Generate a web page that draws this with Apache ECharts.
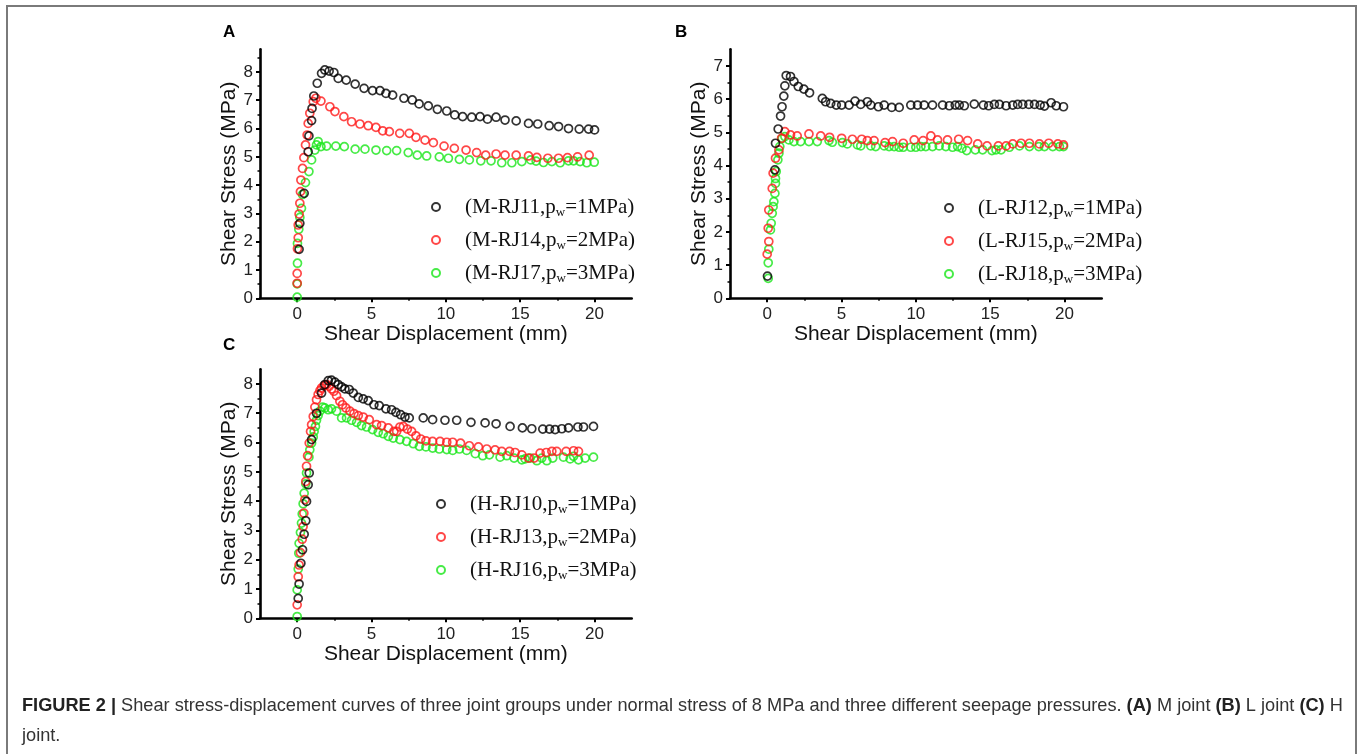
<!DOCTYPE html>
<html>
<head>
<meta charset="utf-8">
<script src="https://cdn.jsdelivr.net/npm/echarts@6/dist/echarts.min.js"></script>
<style>
html,body{margin:0;padding:0;background:#fff;}
#chart{width:1362px;height:754px;}
</style>
</head>
<body>
<div id="chart"></div>
<script>
// ---------- tick labels ----------
const xTicks = [0, 5, 10, 15, 20];
const xMinorTicks = [2.5, 7.5, 12.5, 17.5];
const yTicksA = [0, 1, 2, 3, 4, 5, 6, 7, 8];
const yMinorA = [0.5, 1.5, 2.5, 3.5, 4.5, 5.5, 6.5, 7.5, 8.5];
const yTicksB = [0, 1, 2, 3, 4, 5, 6, 7];
const yMinorB = [0.5, 1.5, 2.5, 3.5, 4.5, 5.5, 6.5];
const yTicksC = [0, 1, 2, 3, 4, 5, 6, 7, 8];
const yMinorC = [0.5, 1.5, 2.5, 3.5, 4.5, 5.5, 6.5, 7.5];

// ---------- series names ----------
const namesA = ['(M-RJ11,pw=1MPa)', '(M-RJ14,pw=2MPa)', '(M-RJ17,pw=3MPa)'];
const namesB = ['(L-RJ12,pw=1MPa)', '(L-RJ15,pw=2MPa)', '(L-RJ18,pw=3MPa)'];
const namesC = ['(H-RJ10,pw=1MPa)', '(H-RJ13,pw=2MPa)', '(H-RJ16,pw=3MPa)'];

// ---------- data: [shear displacement (mm), shear stress (MPa)] ----------
const mRJ11 = [[0.13,1.73],[0.18,2.65],[0.47,3.71],[0.74,5.18],[0.79,5.74],[0.97,6.28],[1.0,6.71],[1.12,7.15],[1.35,7.6],[1.64,7.95],[1.86,8.07],[2.15,8.03],[2.47,7.98],[2.76,7.77],[3.3,7.71],[3.9,7.57],[4.5,7.42],[5.07,7.34],[5.57,7.34],[5.97,7.24],[6.42,7.18],[7.18,7.07],[7.74,7.01],[8.2,6.87],[8.82,6.8],[9.43,6.68],[10.06,6.62],[10.6,6.48],[11.13,6.42],[11.74,6.4],[12.3,6.42],[12.8,6.33],[13.38,6.4],[13.98,6.3],[14.73,6.27],[15.56,6.18],[16.18,6.16],[16.95,6.1],[17.58,6.07],[18.25,6.0],[18.97,5.98],[19.6,5.98],[20.0,5.95]];
const mRJ14 = [[0.0,0.53],[0.0,0.88],[0.02,1.75],[0.07,2.14],[0.07,2.59],[0.13,2.98],[0.18,3.36],[0.22,3.77],[0.25,4.18],[0.36,4.59],[0.45,4.97],[0.56,5.42],[0.67,5.77],[0.74,6.18],[0.85,6.54],[1.08,6.95],[1.26,7.07],[1.6,6.97],[2.2,6.77],[2.54,6.6],[3.14,6.42],[3.66,6.24],[4.22,6.16],[4.78,6.1],[5.3,6.04],[5.75,5.92],[6.2,5.89],[6.9,5.83],[7.54,5.83],[7.99,5.69],[8.6,5.59],[9.16,5.5],[9.88,5.38],[10.57,5.3],[11.36,5.24],[12.07,5.15],[12.68,5.06],[13.38,5.1],[13.98,5.06],[14.73,5.06],[15.56,5.03],[16.12,4.98],[16.86,4.95],[17.58,4.95],[18.18,4.97],[18.86,5.0],[19.64,5.06]];
const mRJ17 = [[0.0,0.04],[0.0,0.51],[0.02,1.24],[0.02,1.94],[0.11,2.44],[0.18,2.86],[0.29,3.18],[0.36,3.67],[0.56,4.09],[0.79,4.48],[0.97,4.89],[1.19,5.24],[1.3,5.42],[1.41,5.54],[1.6,5.36],[1.98,5.38],[2.6,5.38],[3.17,5.36],[3.9,5.27],[4.56,5.27],[5.3,5.24],[6.02,5.22],[6.69,5.22],[7.47,5.15],[8.08,5.06],[8.71,5.03],[9.56,5.0],[10.17,4.95],[10.91,4.91],[11.58,4.89],[12.35,4.86],[13.04,4.86],[13.76,4.79],[14.44,4.79],[15.11,4.83],[15.71,4.89],[16.07,4.85],[16.57,4.8],[17.13,4.83],[17.69,4.79],[18.25,4.86],[18.59,4.86],[19.03,4.83],[19.48,4.79],[19.98,4.81]];

const lRJ12 = [[0.02,0.67],[0.52,3.87],[0.56,4.67],[0.74,5.1],[0.9,5.49],[1.0,5.77],[1.12,6.09],[1.19,6.4],[1.28,6.71],[1.57,6.68],[1.8,6.53],[2.09,6.38],[2.47,6.3],[2.85,6.19],[3.71,6.02],[3.93,5.92],[4.27,5.87],[4.65,5.82],[5.01,5.82],[5.51,5.82],[5.91,5.94],[6.29,5.84],[6.74,5.92],[6.97,5.82],[7.48,5.77],[7.87,5.82],[8.38,5.75],[8.88,5.75],[9.66,5.82],[10.11,5.82],[10.56,5.82],[11.12,5.82],[11.8,5.82],[12.25,5.8],[12.65,5.82],[12.92,5.82],[13.26,5.8],[13.93,5.85],[14.54,5.82],[14.9,5.8],[15.28,5.84],[15.62,5.84],[16.07,5.8],[16.52,5.82],[16.85,5.84],[17.19,5.84],[17.6,5.84],[17.98,5.84],[18.36,5.82],[18.65,5.79],[19.1,5.89],[19.44,5.8],[19.93,5.77]];
const lRJ15 = [[0.0,1.33],[0.11,1.71],[0.07,2.11],[0.11,2.66],[0.34,3.31],[0.4,3.77],[0.56,4.22],[0.79,4.47],[0.97,4.82],[1.19,5.02],[1.57,4.92],[2.02,4.89],[2.81,4.95],[3.6,4.89],[4.2,4.85],[5.01,4.82],[5.73,4.79],[6.36,4.79],[6.74,4.75],[7.19,4.75],[7.93,4.69],[8.43,4.72],[9.15,4.67],[9.89,4.77],[10.49,4.75],[11.01,4.89],[11.46,4.77],[12.13,4.77],[12.88,4.79],[13.48,4.75],[14.16,4.65],[14.79,4.59],[15.55,4.59],[16.07,4.59],[16.52,4.65],[17.08,4.67],[17.64,4.67],[18.31,4.65],[18.94,4.67],[19.55,4.65],[19.93,4.62]];
const lRJ18 = [[0.07,0.6],[0.07,1.07],[0.11,1.48],[0.22,2.06],[0.27,2.26],[0.34,2.56],[0.4,2.76],[0.45,2.91],[0.52,3.16],[0.56,3.46],[0.56,3.61],[0.61,3.82],[0.72,4.17],[0.79,4.37],[0.85,4.57],[1.01,4.82],[1.19,4.87],[1.46,4.77],[1.8,4.72],[2.25,4.72],[2.81,4.72],[3.37,4.72],[4.16,4.75],[4.38,4.7],[5.06,4.69],[5.39,4.65],[6.07,4.62],[6.29,4.59],[6.97,4.59],[7.3,4.57],[7.87,4.59],[8.2,4.57],[8.54,4.57],[8.88,4.55],[9.15,4.55],[9.66,4.55],[10.0,4.55],[10.34,4.57],[10.67,4.57],[11.12,4.57],[11.57,4.59],[12.02,4.57],[12.47,4.55],[12.81,4.57],[13.1,4.52],[13.42,4.45],[14.0,4.47],[14.49,4.47],[15.12,4.45],[15.39,4.47],[15.73,4.47],[16.29,4.55],[16.97,4.59],[17.64,4.57],[18.27,4.57],[18.65,4.57],[19.21,4.57],[19.66,4.57],[19.93,4.57]];

const hRJ10 = [[0.07,0.68],[0.13,1.17],[0.25,1.88],[0.36,2.34],[0.47,2.87],[0.58,3.33],[0.63,3.99],[0.74,4.56],[0.81,4.96],[0.97,6.1],[1.3,7.0],[1.64,7.69],[1.86,7.98],[2.09,8.11],[2.31,8.13],[2.54,8.06],[2.76,7.98],[2.99,7.9],[3.21,7.83],[3.5,7.81],[3.77,7.69],[4.11,7.54],[4.44,7.49],[4.78,7.43],[5.16,7.29],[5.52,7.26],[5.97,7.15],[6.35,7.12],[6.64,7.03],[6.96,6.95],[7.25,6.87],[7.54,6.84],[8.48,6.84],[9.11,6.78],[9.94,6.76],[10.73,6.76],[11.69,6.69],[12.64,6.67],[13.38,6.64],[14.32,6.55],[15.15,6.5],[15.78,6.47],[16.52,6.46],[16.97,6.46],[17.35,6.44],[17.8,6.47],[18.25,6.5],[18.88,6.53],[19.26,6.53],[19.93,6.55]];
const hRJ13 = [[0.0,0.46],[0.07,1.42],[0.13,1.82],[0.22,2.24],[0.34,2.7],[0.4,3.13],[0.45,3.59],[0.52,4.05],[0.58,4.67],[0.63,5.19],[0.7,5.55],[0.81,5.98],[0.9,6.38],[0.97,6.61],[1.08,6.89],[1.19,7.21],[1.3,7.46],[1.41,7.64],[1.53,7.77],[1.64,7.86],[1.8,7.94],[1.98,7.98],[2.15,7.92],[2.31,7.83],[2.47,7.75],[2.65,7.6],[2.87,7.41],[3.05,7.29],[3.28,7.18],[3.55,7.07],[3.82,6.99],[4.11,6.92],[4.44,6.87],[4.85,6.78],[5.34,6.61],[5.68,6.58],[6.13,6.5],[6.51,6.38],[6.69,6.38],[6.91,6.53],[7.14,6.55],[7.41,6.46],[7.7,6.38],[7.99,6.23],[8.31,6.12],[8.66,6.06],[9.11,6.04],[9.61,6.04],[10.06,6.01],[10.46,6.01],[10.99,5.98],[11.58,5.89],[12.19,5.85],[12.75,5.78],[13.31,5.75],[13.76,5.7],[14.28,5.7],[14.66,5.66],[15.11,5.58],[15.56,5.47],[15.94,5.47],[16.34,5.64],[16.75,5.66],[17.13,5.7],[17.46,5.7],[18.09,5.7],[18.59,5.72],[18.92,5.7]];
const hRJ16 = [[0.0,0.06],[0.0,0.97],[0.07,1.68],[0.11,2.22],[0.13,2.56],[0.22,2.93],[0.29,3.25],[0.34,3.56],[0.4,3.91],[0.47,4.27],[0.58,4.59],[0.63,4.96],[0.79,5.5],[0.85,5.75],[0.97,5.98],[1.08,6.19],[1.14,6.38],[1.23,6.55],[1.3,6.76],[1.41,6.92],[1.53,7.07],[1.71,7.21],[1.86,7.18],[2.09,7.12],[2.31,7.15],[2.65,7.07],[2.99,6.84],[3.32,6.84],[3.66,6.76],[4.0,6.69],[4.33,6.58],[4.67,6.53],[5.07,6.44],[5.45,6.35],[5.79,6.3],[6.13,6.21],[6.46,6.15],[6.91,6.1],[7.36,6.04],[7.81,5.96],[8.22,5.87],[8.66,5.85],[9.11,5.81],[9.56,5.78],[10.06,5.76],[10.46,5.73],[10.91,5.78],[11.4,5.73],[11.98,5.62],[12.48,5.55],[12.93,5.58],[13.65,5.5],[14.1,5.55],[14.59,5.47],[15.11,5.41],[15.33,5.44],[15.67,5.47],[16.12,5.38],[16.45,5.47],[16.79,5.38],[17.19,5.47],[17.91,5.5],[18.36,5.44],[18.59,5.53],[18.92,5.41],[19.37,5.47],[19.93,5.5]];

const colors = ['#000000', '#ff1a1a', '#19e619'];

// ---------- build ----------
const SANS = '"Liberation Sans", Arial, sans-serif';
const SERIF = '"Liberation Serif", "Times New Roman", serif';

const panels = [
  {grid: {left: 260, top: 49.3, width: 371.7, height: 249}, yMax: 8.8, yTicks: yTicksA, yMinor: yMinorA,
   names: namesA, data: [mRJ11, mRJ14, mRJ17], legend: {left: 431, top: 195}},
  {grid: {left: 730, top: 49.3, width: 371.7, height: 249}, yMax: 7.5, yTicks: yTicksB, yMinor: yMinorB,
   names: namesB, data: [lRJ12, lRJ15, lRJ18], legend: {left: 944, top: 196}},
  {grid: {left: 260, top: 369.3, width: 371.7, height: 249}, yMax: 8.5, yTicks: yTicksC, yMinor: yMinorC,
   names: namesC, data: [hRJ10, hRJ13, hRJ16], legend: {left: 436, top: 492}}
];

const grid = [], xAxis = [], yAxis = [], series = [], legend = [];
panels.forEach((p, i) => {
  grid.push(Object.assign({containLabel: false}, p.grid));
  // main x axis
  xAxis.push({
    type: 'value', gridIndex: i, position: 'bottom', min: -2.5, max: 22.5,
    name: 'Shear Displacement (mm)', nameLocation: 'middle', nameGap: 23,
    nameTextStyle: {fontFamily: SANS, fontSize: 21, color: '#111'},
    axisLine: {show: true, onZero: false, lineStyle: {color: '#000', width: 2.6}},
    axisTick: {show: true, inside: false, length: 4, customValues: xTicks, lineStyle: {color: '#000', width: 2}},
    axisLabel: {show: true, customValues: xTicks, margin: 8, fontFamily: SANS, fontSize: 17, color: '#222'},
    splitLine: {show: false}
  });
  // minor x ticks
  xAxis.push({
    type: 'value', gridIndex: i, position: 'bottom', min: -2.5, max: 22.5,
    axisLine: {show: false, onZero: false}, axisLabel: {show: false}, splitLine: {show: false},
    axisTick: {show: true, inside: false, length: 2.5, customValues: xMinorTicks, lineStyle: {color: '#000', width: 1.5}}
  });
  // main y axis
  yAxis.push({
    type: 'value', gridIndex: i, position: 'left', min: 0, max: p.yMax,
    name: 'Shear Stress (MPa)', nameLocation: 'middle', nameGap: 19,
    nameTextStyle: {fontFamily: SANS, fontSize: 21, color: '#111'},
    axisLine: {show: true, onZero: false, lineStyle: {color: '#000', width: 2.6}},
    axisTick: {show: true, inside: false, length: 4, customValues: p.yTicks, lineStyle: {color: '#000', width: 2}},
    axisLabel: {show: true, customValues: p.yTicks, margin: 7, fontFamily: SANS, fontSize: 17, color: '#222'},
    splitLine: {show: false}
  });
  // minor y ticks
  yAxis.push({
    type: 'value', gridIndex: i, position: 'left', min: 0, max: p.yMax,
    axisLine: {show: false, onZero: false}, axisLabel: {show: false}, splitLine: {show: false},
    axisTick: {show: true, inside: false, length: 2.5, customValues: p.yMinor, lineStyle: {color: '#000', width: 1.5}}
  });
  p.names.forEach((nm, k) => {
    series.push({
      type: 'scatter', name: nm, xAxisIndex: 2 * i, yAxisIndex: 2 * i,
      data: p.data[k], symbol: 'circle', symbolSize: 8,
      itemStyle: {color: 'rgba(255,255,255,0)', borderColor: colors[k], borderWidth: 1.7},
      emphasis: {disabled: true}, z: 3 - k
    });
  });
  legend.push({
    data: p.names, orient: 'vertical', left: p.legend.left, top: p.legend.top,
    itemWidth: 48, itemHeight: 8, itemGap: 9, padding: 0, selectedMode: false,
    formatter: (name) => name.replace('pw', 'p{sub|w}'),
    textStyle: {
      fontFamily: SERIF, fontSize: 21, color: '#111', lineHeight: 24,
      rich: {sub: {fontFamily: SERIF, fontSize: 13, color: '#111', padding: [11, 0, 0, 0], lineHeight: 13}}
    }
  });
});

const letterStyle = {fontFamily: SANS, fontSize: 17, fontWeight: 'bold', color: '#000'};
const title = [
  {text: 'A', left: 223, top: 24, padding: 0, textStyle: letterStyle},
  {text: 'B', left: 675, top: 24, padding: 0, textStyle: letterStyle},
  {text: 'C', left: 223, top: 337, padding: 0, textStyle: letterStyle}
];

const captionText = '{b|FIGURE 2 |} Shear stress-displacement curves of three joint groups under normal stress of 8 MPa and three different seepage pressures. {b|(A)} M joint {b|(B)} L joint {b|(C)} H\njoint.';

const chart = echarts.init(document.getElementById('chart'), null, {renderer: 'canvas'});
chart.setOption({
  backgroundColor: '#ffffff',
  animation: false,
  title, grid, xAxis, yAxis, series, legend,
  graphic: [
    {type: 'rect', silent: true, z: -1, shape: {x: 7, y: 6, width: 1349, height: 800},
     style: {fill: 'none', stroke: '#7a7a7a', lineWidth: 2}},
    {type: 'text', left: 22, top: 691, silent: true,
     style: {text: captionText, fontFamily: SANS, fontSize: 18.2, lineHeight: 30, fill: '#333',
             rich: {b: {fontFamily: SANS, fontSize: 18.2, fontWeight: 'bold', fill: '#222', lineHeight: 30}}}}
  ]
});
</script>
</body>
</html>
